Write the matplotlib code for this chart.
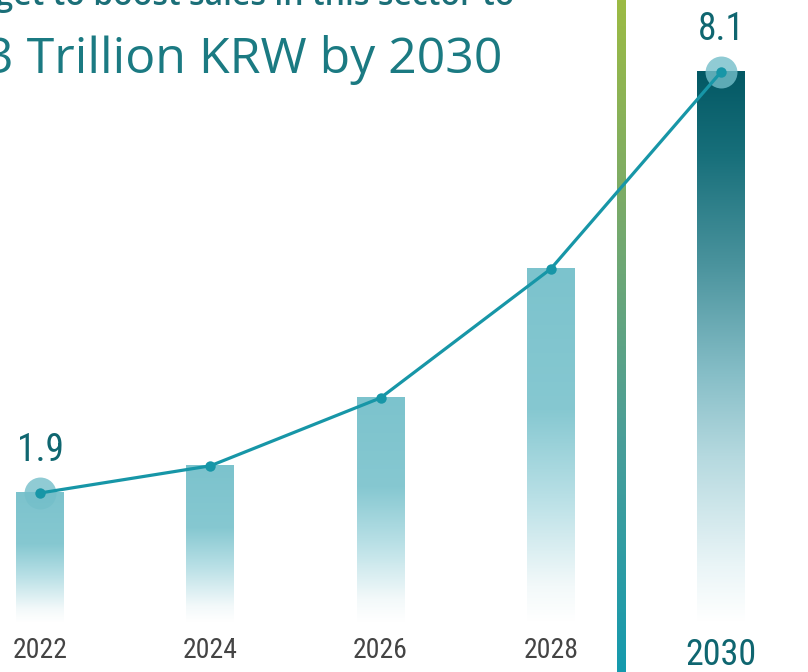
import numpy as np
import matplotlib
matplotlib.use("Agg")
import matplotlib.pyplot as plt
from matplotlib.colors import LinearSegmentedColormap

years = ["2022", "2024", "2026", "2028", "2030"]
values = [1.9, 2.3, 3.3, 5.2, 8.1]
value_labels = {0: "1.9", 4: "8.1"}
title_text = "3 Trillion KRW by 2030"
subtitle_text = "has set a target to boost sales in this sector to"

narrow = ["Liberation Sans Narrow", "Roboto Condensed", "Liberation Sans", "DejaVu Sans"]

fig = plt.figure(figsize=(8.08, 6.72), dpi=100)
ax = fig.add_axes([0, 0, 1, 1])
ax.set_xlim(-0.235, 4.511)
ax.set_ylim(-0.736, 9.16)
ax.axis("off")

light_cmap = LinearSegmentedColormap.from_list(
    "light", [(0.0, "#ffffff"), (0.1, "#f3f9fa"), (0.35, "#b9e0e6"),
              (0.6, "#86c8d1"), (1.0, "#7cc3cd")])
dark_cmap = LinearSegmentedColormap.from_list(
    "dark", [(0.0, "#ffffff"), (0.1, "#eaf5f7"), (0.3, "#b5d9df"),
             (0.45, "#86bec7"), (0.65, "#4a939d"), (0.85, "#176f7a"),
             (1.0, "#035864")])

grad = np.linspace(0, 1, 256).reshape(-1, 1)
bw = 0.28
for i, v in enumerate(values):
    cmap = dark_cmap if i == len(values) - 1 else light_cmap
    ax.imshow(grad, cmap=cmap, origin="lower", aspect="auto",
              extent=[i - bw / 2, i + bw / 2, 0, v], zorder=1,
              interpolation="bilinear")

# separator line with gradient
sep_cmap = LinearSegmentedColormap.from_list(
    "sep", [(0.0, "#159aae"), (0.35, "#4a9e98"), (0.7, "#7bab68"), (1.0, "#9cbb44")])
sx = 3.413
ax.imshow(grad, cmap=sep_cmap, origin="lower", aspect="auto",
          extent=[sx - 0.0235, sx + 0.0235, -0.736, 9.16], zorder=2,
          interpolation="bilinear")

xs = np.arange(len(values))
line_color = "#1796a7"
for i in value_labels:
    ax.plot(xs[i], values[i], "o", ms=23, color="#74bfca", alpha=0.8,
            mec="none", zorder=3)
ax.plot(xs, values, "-", color=line_color, lw=2.3, zorder=4)
ax.plot(xs, values, "o", color=line_color, ms=7.5, mec="none", zorder=5)

for i, lab in value_labels.items():
    ax.annotate(lab, (xs[i], values[i]), xytext=(0, 23),
                textcoords="offset points", ha="center", va="baseline",
                fontsize=27, color="#0f6670", family=narrow,
                fontstretch="condensed", zorder=6)

for i, y in enumerate(years):
    if i == len(years) - 1:
        ax.text(xs[i], -0.633, y, ha="center", va="baseline", fontsize=26,
                color="#0f6670", family=narrow, fontstretch="condensed")
    else:
        ax.text(xs[i], -0.53, y, ha="center", va="baseline", fontsize=20,
                color="#444444", family=narrow, fontstretch="condensed")

fig.text(502 / 808, 1 - 73 / 672, title_text, ha="right", va="baseline",
         fontsize=36, color="#1b7a82", family=["Open Sans", "DejaVu Sans"])
fig.text(514 / 808, 1 - 5 / 672, subtitle_text, ha="right", va="baseline",
         fontsize=23, color="#1b6f78", fontweight="semibold",
         family=["Open Sans", "DejaVu Sans"])

fig.savefig("out.png", dpi=100)
